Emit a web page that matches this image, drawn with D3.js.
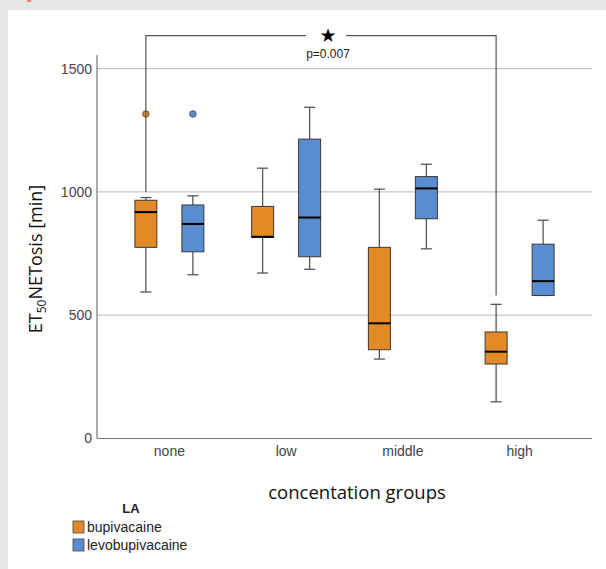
<!DOCTYPE html>
<html>
<head>
<meta charset="utf-8">
<script src="https://cdn.jsdelivr.net/npm/d3@7"></script>
<style>
  body { margin: 0; background: #e4e5e7; }
  svg { display: block; }
</style>
</head>
<body>
<div id="chart"></div>
<script>
const groups = ["none", "low", "middle", "high"];
const drugs = ["bupivacaine", "levobupivacaine"];
const colors = ["#e38a27", "#5a8dcf"];

// [whiskerLow, q1, median, q3, whiskerHigh] per group
const bupivacaine = [
    [594, 775, 918, 966, 977],
    [671, 815, 818, 941, 1096],
    [322, 360, 467, 775, 1011],
    [149, 302, 352, 432, 544]
];
const levobupivacaine = [
    [664, 757, 870, 947, 984],
    [686, 737, 896, 1214, 1343],
    [769, 891, 1014, 1062, 1112],
    [580, 580, 638, 788, 885]
];
const outliers = [
    { group: "none", drug: "bupivacaine", value: 1316 },
    { group: "none", drug: "levobupivacaine", value: 1316 }
];
const yTicks = [0, 500, 1000, 1500];

const W = 606, H = 569;
const plotLeft = 97, plotRight = 592, plotTop = 55, plotBottom = 438.5;

const svg = d3.select("#chart").append("svg")
    .attr("width", W)
    .attr("height", H);

// white panel
svg.append("rect")
    .attr("x", 8).attr("y", 10)
    .attr("width", W - 8).attr("height", H - 10)
    .attr("fill", "#fff");
svg.append("rect")
    .attr("x", 27).attr("y", 0).attr("width", 4).attr("height", 2)
    .attr("fill", "#f08080");

const yScale = d3.scaleLinear()
    .domain([0, 1555])
    .range([plotBottom, plotTop]);

const xScale = d3.scaleBand()
    .domain(groups)
    .range([plotLeft, plotRight])
    .paddingInner(0)
    .paddingOuter(0.12);

const boxW = 22;
const cx = (g, d) => xScale(g) + xScale.bandwidth() / 2 + (d === drugs[0] ? -23.5 : 23.5);

// gridlines
svg.append("g")
    .selectAll("line")
    .data(yTicks.filter(t => t > 0))
    .join("line")
    .attr("x1", plotLeft).attr("x2", plotRight)
    .attr("y1", d => yScale(d)).attr("y2", d => yScale(d))
    .attr("stroke", "#c4c4c4")
    .attr("stroke-width", 1.2);

// y axis
const yAxis = svg.append("g")
    .attr("transform", `translate(${plotLeft},0)`)
    .call(d3.axisLeft(yScale).tickValues(yTicks).tickFormat(d3.format("d")).tickSize(0).tickPadding(5));
yAxis.select(".domain").attr("stroke", "#777").attr("stroke-width", 1.2)
    .attr("d", `M0,${plotTop}V${plotBottom}`);
yAxis.selectAll("text")
    .attr("font-family", "Liberation Sans, Arial, sans-serif")
    .attr("font-size", 14)
    .attr("fill", "#444");

// x axis
const xAxis = svg.append("g")
    .attr("transform", `translate(0,${plotBottom})`)
    .call(d3.axisBottom(xScale).tickSize(0).tickPadding(8));
xAxis.select(".domain").attr("stroke", "#777").attr("stroke-width", 1.2)
    .attr("d", `M${plotLeft},0H${plotRight}`);
xAxis.selectAll("text")
    .attr("font-family", "Liberation Sans, Arial, sans-serif")
    .attr("font-size", 14)
    .attr("fill", "#444");

// box data
const boxes = [];
groups.forEach((g, i) => {
    [bupivacaine, levobupivacaine].forEach((series, j) => {
        const s = series[i];
        boxes.push({ group: g, drug: drugs[j], color: colors[j],
            lo: s[0], q1: s[1], med: s[2], q3: s[3], hi: s[4] });
    });
});

const bx = svg.append("g").selectAll("g")
    .data(boxes)
    .join("g");

// whiskers
bx.append("line")
    .attr("x1", d => cx(d.group, d.drug)).attr("x2", d => cx(d.group, d.drug))
    .attr("y1", d => yScale(d.hi)).attr("y2", d => yScale(d.q3))
    .attr("stroke", "#555").attr("stroke-width", 1.3);
bx.append("line")
    .attr("x1", d => cx(d.group, d.drug)).attr("x2", d => cx(d.group, d.drug))
    .attr("y1", d => yScale(d.q1)).attr("y2", d => yScale(d.lo))
    .attr("stroke", "#555").attr("stroke-width", 1.3);
bx.selectAll(".cap")
    .data(d => [d.lo, d.hi].map(v => ({ v, d })))
    .join("line")
    .attr("class", "cap")
    .attr("x1", o => cx(o.d.group, o.d.drug) - 5.5)
    .attr("x2", o => cx(o.d.group, o.d.drug) + 5.5)
    .attr("y1", o => yScale(o.v)).attr("y2", o => yScale(o.v))
    .attr("stroke", "#555").attr("stroke-width", 1.3);

// boxes
bx.append("rect")
    .attr("x", d => cx(d.group, d.drug) - boxW / 2)
    .attr("y", d => yScale(d.q3))
    .attr("width", boxW)
    .attr("height", d => yScale(d.q1) - yScale(d.q3))
    .attr("fill", d => d.color)
    .attr("stroke", "#3a3a3a")
    .attr("stroke-width", 1);

// medians
bx.append("line")
    .attr("x1", d => cx(d.group, d.drug) - boxW / 2)
    .attr("x2", d => cx(d.group, d.drug) + boxW / 2)
    .attr("y1", d => yScale(d.med)).attr("y2", d => yScale(d.med))
    .attr("stroke", "#000").attr("stroke-width", 2);

// outliers
svg.append("g").selectAll("circle")
    .data(outliers)
    .join("circle")
    .attr("cx", d => cx(d.group, d.drug))
    .attr("cy", d => yScale(d.value))
    .attr("r", 3.3)
    .attr("fill", d => colors[drugs.indexOf(d.drug)])
    .attr("stroke", "#444")
    .attr("stroke-width", 0.8);

// significance bracket
const bracketY = 35.7;
const bL = cx("none", "bupivacaine"), bR = cx("high", "bupivacaine");
const midX = 328;
const br = svg.append("g").attr("stroke", "#555").attr("stroke-width", 1.2).attr("fill", "none");
br.append("path").attr("d", `M${bL},${yScale(1000)}V${bracketY}H${midX - 22}`);
br.append("path").attr("d", `M${midX + 18},${bracketY}H${bR}V${yScale(580)}`);

svg.append("text")
    .attr("x", midX).attr("y", 42)
    .attr("text-anchor", "middle")
    .attr("font-family", "DejaVu Sans, sans-serif")
    .attr("font-size", 19)
    .text("★");
svg.append("text")
    .attr("x", midX).attr("y", 58)
    .attr("text-anchor", "middle")
    .attr("font-family", "Liberation Sans, Arial, sans-serif")
    .attr("font-size", 12)
    .attr("fill", "#222")
    .text("p=0.007");

// axis titles
const yTitle = svg.append("text")
    .attr("transform", "translate(42,259) rotate(-90)")
    .attr("text-anchor", "middle")
    .attr("font-family", "Open Sans, sans-serif")
    .attr("font-size", 18)
    .attr("fill", "#111");
yTitle.append("tspan").text("ET");
yTitle.append("tspan").attr("font-size", 12).attr("dy", 4).text("50");
yTitle.append("tspan").attr("dy", -4).text("NETosis [min]");

svg.append("text")
    .attr("x", 357).attr("y", 499)
    .attr("text-anchor", "middle")
    .attr("font-family", "Open Sans, sans-serif")
    .attr("font-size", 18.5)
    .attr("fill", "#111")
    .text("concentation groups");

// legend
svg.append("text")
    .attr("x", 131).attr("y", 513)
    .attr("text-anchor", "middle")
    .attr("font-family", "Liberation Sans, Arial, sans-serif")
    .attr("font-weight", "bold")
    .attr("font-size", 13)
    .attr("fill", "#222")
    .text("LA");

const lg = svg.append("g").selectAll("g")
    .data(drugs)
    .join("g")
    .attr("transform", (d, i) => `translate(73,${521 + i * 18})`);
lg.append("rect")
    .attr("width", 11).attr("height", 12)
    .attr("fill", (d, i) => colors[i])
    .attr("stroke", "#444").attr("stroke-width", 0.8);
lg.append("text")
    .attr("x", 14).attr("y", 11)
    .attr("font-family", "Liberation Sans Narrow, Liberation Sans, Arial, sans-serif")
    .attr("font-size", 14)
    .attr("fill", "#222")
    .text(d => d);
</script>
</body>
</html>
